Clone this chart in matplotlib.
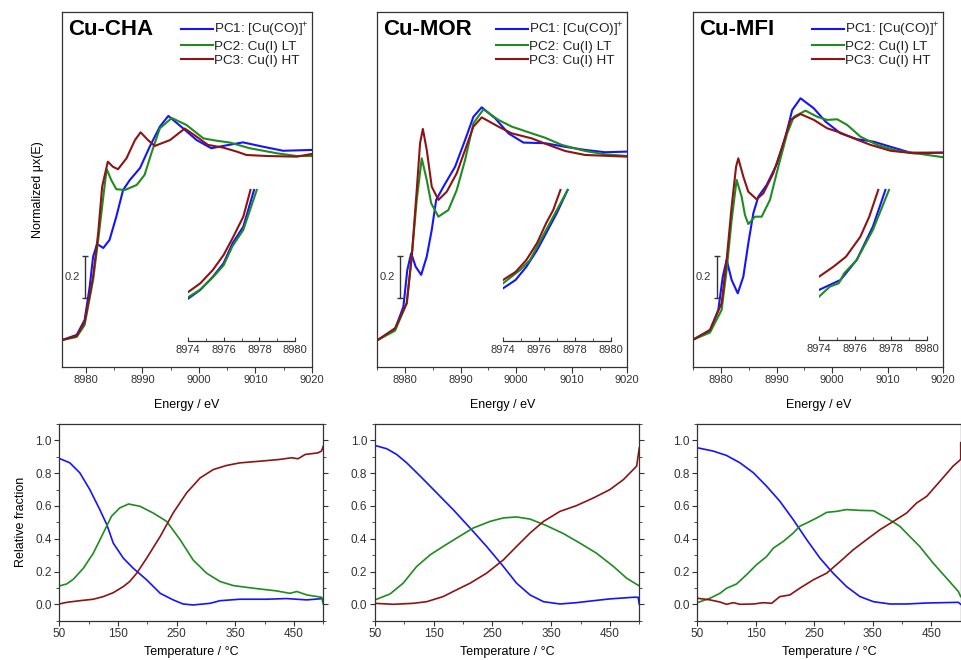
import matplotlib.pyplot as plt
from matplotlib.ticker import MultipleLocator

# ---------------- top row: normalized XANES (energy / eV, normalized mu) ----------------
CHA_PC1 = [(8975.9, 0.0), (8978.4, 0.024), (8979.8, 0.095), (8980.7, 0.254), (8981.3, 0.397),
           (8982.0, 0.457), (8983.1, 0.438), (8984.2, 0.476), (8985.4, 0.587), (8986.6, 0.714),
           (8987.8, 0.762), (8989.6, 0.819), (8991.3, 0.920), (8993.1, 1.016), (8994.6, 1.067),
           (8997.2, 1.008), (8999.6, 0.952), (9002.2, 0.913), (9004.3, 0.924), (9007.8, 0.941),
           (9011.4, 0.920), (9014.9, 0.901), (9020.0, 0.905)]
CHA_PC2 = [(8975.9, 0.0), (8978.4, 0.014), (8979.8, 0.071), (8981.3, 0.286), (8982.2, 0.476),
           (8983.1, 0.682), (8983.7, 0.814), (8984.5, 0.762), (8985.4, 0.718), (8986.9, 0.714),
           (8989.0, 0.738), (8990.4, 0.786), (8991.6, 0.889), (8993.1, 1.008), (8995.2, 1.057),
           (8997.8, 1.024), (9000.8, 0.960), (9003.1, 0.949), (9005.5, 0.940), (9009.0, 0.913),
           (9013.8, 0.889), (9017.3, 0.876), (9020.0, 0.876)]
CHA_PC3 = [(8975.9, 0.0), (8978.4, 0.019), (8979.8, 0.086), (8981.3, 0.301), (8982.2, 0.510),
           (8982.9, 0.730), (8983.9, 0.849), (8984.8, 0.825), (8985.7, 0.813), (8987.2, 0.865),
           (8988.7, 0.952), (8989.7, 0.989), (8991.0, 0.952), (8992.2, 0.924), (8994.9, 0.952),
           (8997.5, 1.007), (8999.6, 0.968), (9001.6, 0.929), (9004.3, 0.916), (9006.7, 0.897),
           (9008.4, 0.881), (9012.0, 0.876), (9017.3, 0.873), (9020.0, 0.886)]

MOR_PC1 = [(8975.1, 0.0), (8978.2, 0.051), (8979.7, 0.159), (8980.4, 0.333), (8981.1, 0.413),
           (8981.9, 0.349), (8982.9, 0.310), (8983.9, 0.397), (8984.8, 0.524), (8985.6, 0.667),
           (8986.9, 0.730), (8989.0, 0.825), (8990.8, 0.952), (8992.3, 1.063), (8993.8, 1.108),
           (8996.2, 1.056), (8998.6, 0.984), (9001.3, 0.940), (9005.2, 0.937), (9008.8, 0.920),
           (9012.4, 0.905), (9016.0, 0.894), (9020.0, 0.897)]
MOR_PC2 = [(8975.1, 0.0), (8978.2, 0.044), (8980.3, 0.175), (8981.2, 0.397), (8982.1, 0.667),
           (8983.0, 0.865), (8983.9, 0.762), (8984.7, 0.651), (8986.0, 0.587), (8987.8, 0.619),
           (8989.3, 0.714), (8990.8, 0.857), (8992.3, 1.032), (8994.1, 1.098), (8996.8, 1.048),
           (8999.2, 1.016), (9002.8, 0.984), (9005.2, 0.963), (9008.2, 0.929), (9012.4, 0.900),
           (9016.0, 0.884), (9020.0, 0.876)]
MOR_PC3 = [(8975.1, 0.0), (8978.2, 0.056), (8980.3, 0.175), (8981.2, 0.397), (8982.1, 0.714),
           (8982.7, 0.937), (8983.2, 1.005), (8983.9, 0.905), (8984.8, 0.730), (8986.0, 0.667),
           (8987.5, 0.706), (8989.3, 0.794), (8990.8, 0.905), (8992.3, 1.016), (8993.8, 1.060),
           (8996.8, 1.016), (8999.2, 0.984), (9002.8, 0.960), (9005.8, 0.929), (9008.8, 0.900),
           (9012.4, 0.881), (9020.0, 0.873)]

MFI_PC1 = [(8975.1, 0.003), (8978.0, 0.044), (8979.5, 0.143), (8980.3, 0.301), (8981.0, 0.381),
           (8981.9, 0.286), (8983.0, 0.222), (8984.0, 0.301), (8984.9, 0.460), (8985.8, 0.603),
           (8986.7, 0.682), (8988.2, 0.738), (8990.1, 0.841), (8991.6, 0.968), (8992.8, 1.095),
           (8994.3, 1.151), (8996.7, 1.103), (8998.8, 1.040), (9001.5, 0.984), (9004.5, 0.956),
           (9007.5, 0.944), (9010.5, 0.920), (9014.1, 0.892), (9020.0, 0.892)]
MFI_PC2 = [(8975.1, 0.003), (8978.0, 0.035), (8980.1, 0.143), (8981.0, 0.333), (8981.9, 0.571),
           (8982.8, 0.762), (8983.7, 0.682), (8984.3, 0.595), (8984.9, 0.552), (8986.1, 0.587),
           (8987.3, 0.587), (8988.8, 0.667), (8990.3, 0.825), (8991.9, 0.984), (8993.1, 1.063),
           (8995.2, 1.092), (8997.3, 1.063), (8999.1, 1.048), (9000.9, 1.051), (9002.7, 1.024),
           (9005.1, 0.968), (9008.1, 0.929), (9011.7, 0.901), (9015.9, 0.886), (9020.0, 0.870)]
MFI_PC3 = [(8975.1, 0.003), (8978.0, 0.048), (8980.1, 0.175), (8981.0, 0.381), (8981.9, 0.635),
           (8982.7, 0.825), (8983.1, 0.865), (8984.0, 0.778), (8984.9, 0.706), (8986.4, 0.670),
           (8987.6, 0.698), (8989.4, 0.794), (8991.0, 0.920), (8992.5, 1.048), (8994.3, 1.076),
           (8996.7, 1.048), (8999.1, 1.008), (9001.5, 0.987), (9003.9, 0.960), (9006.9, 0.929),
           (9010.5, 0.901), (9014.7, 0.889), (9020.0, 0.892)]

# ---------------- insets: pre-edge zoom (energy / eV, magnified mu, arb.) ----------------
CHA_INS_PC1 = [(8974.0, 0.261), (8974.7, 0.317), (8975.4, 0.399), (8976.0, 0.483), (8976.5, 0.607),
               (8977.1, 0.710), (8977.7, 0.938)]
CHA_INS_PC2 = [(8974.0, 0.270), (8974.7, 0.320), (8975.4, 0.395), (8976.0, 0.470), (8976.5, 0.590),
               (8977.1, 0.690), (8977.85, 0.938)]
CHA_INS_PC3 = [(8974.0, 0.302), (8974.7, 0.358), (8975.4, 0.441), (8976.0, 0.534), (8976.5, 0.638),
               (8977.1, 0.772), (8977.5, 0.938)]

MOR_INS_PC1 = [(8974.0, 0.327), (8974.7, 0.379), (8975.3, 0.461), (8975.9, 0.565), (8976.4, 0.669),
               (8977.0, 0.795), (8977.6, 0.938)]
MOR_INS_PC2 = [(8974.0, 0.358), (8974.95, 0.441), (8975.5, 0.503), (8976.4, 0.689), (8977.0, 0.814),
               (8977.6, 0.938)]
MOR_INS_PC3 = [(8974.0, 0.379), (8974.7, 0.429), (8975.3, 0.503), (8975.9, 0.609), (8976.4, 0.731),
               (8976.8, 0.814), (8977.2, 0.938)]

MFI_INS_PC1 = [(8974.0, 0.311), (8975.2, 0.373), (8976.1, 0.497), (8977.0, 0.704), (8977.7, 0.932)]
MFI_INS_PC2 = [(8974.0, 0.269), (8974.6, 0.331), (8975.1, 0.352), (8975.4, 0.414), (8976.1, 0.497),
               (8977.0, 0.683), (8977.9, 0.932)]
MFI_INS_PC3 = [(8974.0, 0.393), (8974.8, 0.455), (8975.5, 0.517), (8976.3, 0.641), (8976.8, 0.766),
               (8977.3, 0.932)]

# ---------------- bottom row: relative fractions (temperature / C, fraction) ----------------
CHA_FR_PC1 = [(50, 0.890), (68, 0.863), (85, 0.802), (102, 0.700), (119, 0.578), (131, 0.486),
              (142, 0.373), (159, 0.282), (176, 0.220), (199, 0.149), (222, 0.067), (244, 0.027),
              (261, 0.002), (278, -0.004), (307, 0.006), (324, 0.022), (358, 0.031), (403, 0.031),
              (437, 0.035), (472, 0.027), (499, 0.035)]
CHA_FR_PC2 = [(50, 0.112), (62.5, 0.124), (74, 0.153), (91, 0.220), (108, 0.312), (125, 0.435),
              (139, 0.537), (153, 0.588), (168, 0.612), (187.5, 0.598), (210, 0.557), (233, 0.506),
              (256, 0.394), (278, 0.271), (301, 0.190), (324, 0.139), (347, 0.114), (381, 0.098),
              (420, 0.082), (443, 0.067), (455, 0.078), (472, 0.057), (497, 0.043), (500, 0.0)]
CHA_FR_PC3 = [(50, 0.002), (62.5, 0.012), (85, 0.022), (108, 0.031), (125, 0.047), (142, 0.071),
              (159, 0.108), (170, 0.139), (182, 0.190), (199, 0.282), (222, 0.414), (244, 0.557),
              (267, 0.680), (290, 0.771), (312.5, 0.822), (335, 0.847), (358, 0.863), (392, 0.873),
              (426, 0.884), (446, 0.894), (457, 0.888), (469, 0.914), (491, 0.924), (497, 0.935),
              (500, 0.965)]

MOR_FR_PC1 = [(50, 0.969), (70, 0.949), (87, 0.914), (104, 0.863), (127, 0.782), (155, 0.680),
              (183, 0.578), (212, 0.465), (240, 0.353), (268.5, 0.231), (291, 0.129), (314, 0.057),
              (337, 0.016), (365, 0.002), (393, 0.010), (422, 0.022), (450, 0.033), (490, 0.043),
              (498, 0.043), (500, 0.0)]
MOR_FR_PC2 = [(50, 0.027), (75.5, 0.063), (98, 0.129), (121, 0.231), (144, 0.302), (166, 0.353),
              (189, 0.404), (217, 0.465), (246, 0.506), (268.5, 0.527), (291, 0.533), (314, 0.520),
              (342, 0.480), (371, 0.431), (399, 0.373), (427, 0.312), (456, 0.231), (478.5, 0.159),
              (500, 0.112)]
MOR_FR_PC3 = [(50, 0.006), (81, 0.0), (115, 0.006), (138, 0.016), (166, 0.047), (183, 0.078),
              (212, 0.129), (240, 0.190), (268.5, 0.271), (291, 0.353), (314, 0.435), (337, 0.506),
              (365, 0.567), (393, 0.602), (422, 0.649), (450, 0.700), (473, 0.761), (495.5, 0.843),
              (500, 0.955)]

MFI_FR_PC1 = [(50, 0.955), (77, 0.935), (100, 0.908), (123, 0.863), (146, 0.802), (168.5, 0.720),
              (191, 0.629), (214, 0.516), (237, 0.394), (259.5, 0.282), (282, 0.190), (305, 0.108),
              (328, 0.047), (351, 0.016), (379, 0.002), (407.6, 0.002), (442, 0.008), (496, 0.012),
              (500, 0.0)]
MFI_FR_PC2 = [(50, 0.010), (71.6, 0.037), (88.7, 0.067), (100, 0.098), (117, 0.124), (134, 0.180),
              (151, 0.241), (168.5, 0.292), (180, 0.343), (197, 0.384), (214, 0.435), (225, 0.476),
              (242.5, 0.506), (259.5, 0.537), (271, 0.561), (288, 0.567), (305, 0.578), (328, 0.573),
              (351, 0.571), (373.5, 0.527), (396, 0.476), (413, 0.414), (430, 0.353), (453, 0.251),
              (476, 0.159), (496, 0.078), (500, 0.047)]
MFI_FR_PC3 = [(50, 0.037), (71.6, 0.027), (88.7, 0.014), (100, 0.0), (111.5, 0.010), (123, 0.0),
              (146, 0.002), (163, 0.010), (177, 0.006), (191, 0.047), (208, 0.057), (225, 0.098),
              (248, 0.149), (271, 0.190), (294, 0.261), (316.5, 0.333), (339, 0.394), (362, 0.455),
              (385, 0.506), (407.6, 0.557), (424.7, 0.618), (442, 0.659), (464.6, 0.751),
              (487, 0.843), (500, 0.884), (500, 0.986)]

SAMPLES = ["Cu-CHA", "Cu-MOR", "Cu-MFI"]
LABELS = ["PC1: [Cu(CO)]$^{+}$", "PC2: Cu(I) LT", "PC3: Cu(I) HT"]
COLORS = ["#1414ff", "#1e8c1e", "#8c1414"]

SPECTRA = [(CHA_PC1, CHA_PC2, CHA_PC3), (MOR_PC1, MOR_PC2, MOR_PC3), (MFI_PC1, MFI_PC2, MFI_PC3)]
INSETS = [(CHA_INS_PC1, CHA_INS_PC2, CHA_INS_PC3), (MOR_INS_PC1, MOR_INS_PC2, MOR_INS_PC3),
          (MFI_INS_PC1, MFI_INS_PC2, MFI_INS_PC3)]
FRACTIONS = [(CHA_FR_PC1, CHA_FR_PC2, CHA_FR_PC3), (MOR_FR_PC1, MOR_FR_PC2, MOR_FR_PC3),
             (MFI_FR_PC1, MFI_FR_PC2, MFI_FR_PC3)]

# ---------------- layout (figure pixels -> fractions) ----------------
W, H = 961, 660
TOP_BOXES = [(62, 12, 250, 355), (377.3, 12, 250, 355), (693.3, 12, 250, 355)]
TOP_XMIN = [8975.8, 8975.0, 8975.0]
INSET_BOXES = [(187.7, 180, 107.6, 161), (503, 180, 107.7, 161), (819, 179, 107.7, 161)]
BOT_BOXES = [(59.3, 424, 264, 196.7), (375, 424, 264.3, 196.7), (697.3, 424, 263.4, 196.7)]
BAR_E = [8979.9, 8979.1, 8979.2]

plt.rcParams["font.family"] = ["Liberation Sans", "DejaVu Sans"]
plt.rcParams["mathtext.fontset"] = "custom"
plt.rcParams["mathtext.rm"] = "Liberation Sans"
plt.rcParams["axes.linewidth"] = 0.9
plt.rcParams["axes.edgecolor"] = "#333333"
plt.rcParams["xtick.color"] = "#333333"
plt.rcParams["ytick.color"] = "#333333"
plt.rcParams["text.color"] = "#222222"


def box(b):
    x, y, w, h = b
    return [x / W, 1 - (y + h) / H, w / W, h / H]


def xy(points):
    return [p[0] for p in points], [p[1] for p in points]


fig = plt.figure(figsize=(W / 100, H / 100), dpi=100)

for i in range(3):
    # spectra
    ax = fig.add_axes(box(TOP_BOXES[i]))
    for pts, col, lab in zip(SPECTRA[i], COLORS, LABELS):
        e, mu = xy(pts)
        ax.plot(e, mu, color=col, lw=1.5, label=lab)
    ax.set_xlim(TOP_XMIN[i], 9020)
    ax.set_ylim(-0.129, 1.562)
    ax.xaxis.set_major_locator(MultipleLocator(10))
    ax.xaxis.set_minor_locator(MultipleLocator(5))
    ax.tick_params(axis="x", which="major", direction="out", length=4, labelsize=8, pad=2)
    ax.tick_params(axis="x", which="minor", direction="out", length=2)
    ax.set_yticks([])
    ax.set_xlabel("Energy / eV", fontsize=9, labelpad=10)
    if i == 0:
        ax.set_ylabel("Normalized μx(E)", fontsize=9, labelpad=13)
    ax.text(0.024, 0.95, SAMPLES[i], transform=ax.transAxes, fontsize=16,
            fontweight="bold", color="black", ha="left", va="center")
    ax.legend(loc="upper left", bbox_to_anchor=(0.455, 0.99), frameon=False,
              fontsize=9.7, handlelength=2.35, handletextpad=0.1, labelspacing=0.12,
              borderaxespad=0.2, borderpad=0.2)
    # 0.2 scale bar
    ax.errorbar([BAR_E[i]], [0.3], yerr=[0.1], fmt="none", ecolor="#333333",
                elinewidth=1.0, capsize=2.5, capthick=1.0)
    ax.annotate("0.2", (BAR_E[i], 0.3), xytext=(-4, 0), textcoords="offset points",
                ha="right", va="center", fontsize=8, color="#333333")

    # pre-edge inset
    ins = fig.add_axes(box(INSET_BOXES[i]))
    ins.patch.set_alpha(0)
    for pts, col in zip(INSETS[i], COLORS):
        e, mu = xy(pts)
        ins.plot(e, mu, color=col, lw=1.5)
    ins.set_xlim(8974, 8980)
    ins.set_ylim(0, 1)
    for s in ["top", "left", "right"]:
        ins.spines[s].set_visible(False)
    ins.set_yticks([])
    ins.xaxis.set_major_locator(MultipleLocator(2))
    ins.xaxis.set_minor_locator(MultipleLocator(1))
    ins.tick_params(axis="x", which="major", direction="in", length=3, labelsize=8, pad=3)
    ins.tick_params(axis="x", which="minor", direction="in", length=2)

    # relative fractions
    bx = fig.add_axes(box(BOT_BOXES[i]))
    for pts, col in zip(FRACTIONS[i], COLORS):
        t, f = xy(pts)
        bx.plot(t, f, color=col, lw=1.2)
    bx.set_xlim(50, 500)
    bx.set_ylim(-0.1, 1.1)
    bx.set_xticks([50, 150, 250, 350, 450])
    bx.xaxis.set_minor_locator(MultipleLocator(50))
    bx.yaxis.set_major_locator(MultipleLocator(0.2))
    bx.yaxis.set_minor_locator(MultipleLocator(0.1))
    bx.tick_params(which="both", direction="out", right=True, labelsize=8.5, pad=2)
    bx.tick_params(which="major", length=3.5)
    bx.tick_params(which="minor", length=2)
    bx.set_yticklabels([f"{v:.1f}" for v in bx.get_yticks()])
    bx.set_xlabel("Temperature / °C", fontsize=9, labelpad=4)
    if i == 0:
        bx.set_ylabel("Relative fraction", fontsize=9, labelpad=6)

fig.savefig("out.png", dpi=100)
